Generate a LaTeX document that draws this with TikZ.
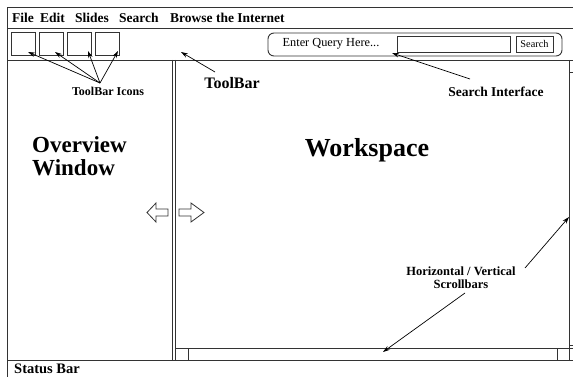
\documentclass[tikz,border=0pt]{standalone}
\usepackage{fontspec}
\setmainfont{Liberation Serif}
\usetikzlibrary{arrows.meta}
\begin{document}
\begin{tikzpicture}[x=1pt,y=-1pt,
  frame/.style={draw=black!80, line width=0.9pt},
  lbl/.style={inner sep=0pt, align=center, font=\bfseries\fontsize{12.5}{12.5}\selectfont},
  big/.style={inner sep=0pt, font=\bfseries\fontsize{23}{23}\selectfont},
  menu/.style={inner sep=0pt, anchor=base west, font=\bfseries\fontsize{13.5}{15}\selectfont},
  pointer/.style={draw=black, line width=0.7pt, -{Stealth[length=7pt,width=4.5pt]}},
  icon/.style={draw=black!80, line width=0.9pt, minimum width=24pt, minimum height=23pt, inner sep=0pt},
  hollow/.style={draw=black!80, line width=0.8pt, line join=miter}
]
\useasboundingbox (0,0) rectangle (573,377);

% application window frame
\draw[frame] (573,7) -- (7,7) -- (7,377);
\draw[frame] (7,28) -- (573,28);
\draw[frame] (7,60) -- (573,60);
\draw[frame] (7,360) -- (573,360);

% pane divider
\draw[frame] (172,60) -- (172,360);
\draw[frame] (175,60) -- (175,360);

% horizontal scrollbar
\draw[frame] (175,348) -- (573,348);
\draw[frame] (188,348) -- (188,360);
\draw[frame] (557,348) -- (557,360);

% vertical scrollbar
\draw[frame] (569,60) -- (569,360);
\draw[frame] (569,72) -- (573,72);
\draw[frame] (569,345) -- (573,345);

% menu bar
\node[menu] (mfile) at (12,22.5) {File};
\node[menu] (medit) at (40,22.5) {Edit};
\node[menu] (mslides) at (75,22.5) {Slides};
\node[menu] (msearch) at (119,22.5) {Search};
\node[menu] (mbrowse) at (170,22.5) {Browse the Internet};

% toolbar icons
\node[icon] (icon1) at (23,43.5) {};
\node[icon] (icon2) at (51,43.5) {};
\node[icon] (icon3) at (79,43.5) {};
\node[icon] (icon4) at (107,43.5) {};

\node[lbl, font=\bfseries\fontsize{12}{12}\selectfont] (tbi) at (108,91) {ToolBar Icons};
\coordinate (hub) at (100,83);
\coordinate (t1) at (28,52);
\coordinate (t2) at (55,52);
\coordinate (t3) at (88,51);
\coordinate (t4) at (118,51);
\foreach \t in {t1,t2,t3,t4} \draw[pointer] (hub) -- (\t);

% toolbar label
\node[inner sep=0pt, font=\bfseries\fontsize{16}{16}\selectfont] (tb) at (232,83) {ToolBar};
\coordinate (tbs) at (215,72);
\coordinate (tbt) at (181,52);
\draw[pointer] (tbs) -- (tbt);

% search interface
\node[draw=black!80, line width=0.9pt, rounded corners=6pt, minimum width=294pt, minimum height=23pt, inner sep=0pt] (sbox) at (415,44.5) {};
\node[inner sep=0pt, font=\fontsize{12.3}{12.3}\selectfont] (query) at (331,44) {Enter Query Here...};
\node[draw=black!80, line width=0.9pt, minimum width=113pt, minimum height=16pt, inner sep=0pt] (field) at (453.5,44) {};
\node[draw=black!80, line width=0.9pt, minimum width=37pt, minimum height=16pt, inner sep=0pt, font=\fontsize{10.3}{10.3}\selectfont] (btn) at (534.5,44) {Search};

\node[inner sep=0pt, font=\bfseries\fontsize{13.5}{13.5}\selectfont] (si) at (496,92) {Search Interface};
\coordinate (sis) at (470,79);
\coordinate (sit) at (392,53);
\draw[pointer] (sis) -- (sit);

% pane titles
\node[big, align=left, anchor=north west] (ov) at (32,136) {Overview\\Window};
\node[big, font=\bfseries\fontsize{26}{26}\selectfont] (ws) at (367,150) {Workspace};

% resize arrows on the divider
\draw[hollow] (147,212.5) -- (156,203) -- (156,209) -- (168,209) -- (168,216) -- (156,216) -- (156,222) -- cycle;
\draw[hollow] (204,212.5) -- (191,203) -- (191,209) -- (179,209) -- (179,216) -- (191,216) -- (191,222) -- cycle;

% scrollbar label
\node[lbl, font=\bfseries\fontsize{12.5}{12.5}\selectfont] (sc) at (461,277.5) {Horizontal / Vertical\\Scrollbars};
\coordinate (scs1) at (525,268);
\coordinate (sct1) at (569,217);
\coordinate (scs2) at (465,293);
\coordinate (sct2) at (383,352);
\draw[pointer] (scs1) -- (sct1);
\draw[pointer] (scs2) -- (sct2);

% status bar
\node[inner sep=0pt, anchor=base west, font=\bfseries\fontsize{14.5}{14.5}\selectfont] (status) at (14,373.5) {Status Bar};
\end{tikzpicture}
\end{document}
